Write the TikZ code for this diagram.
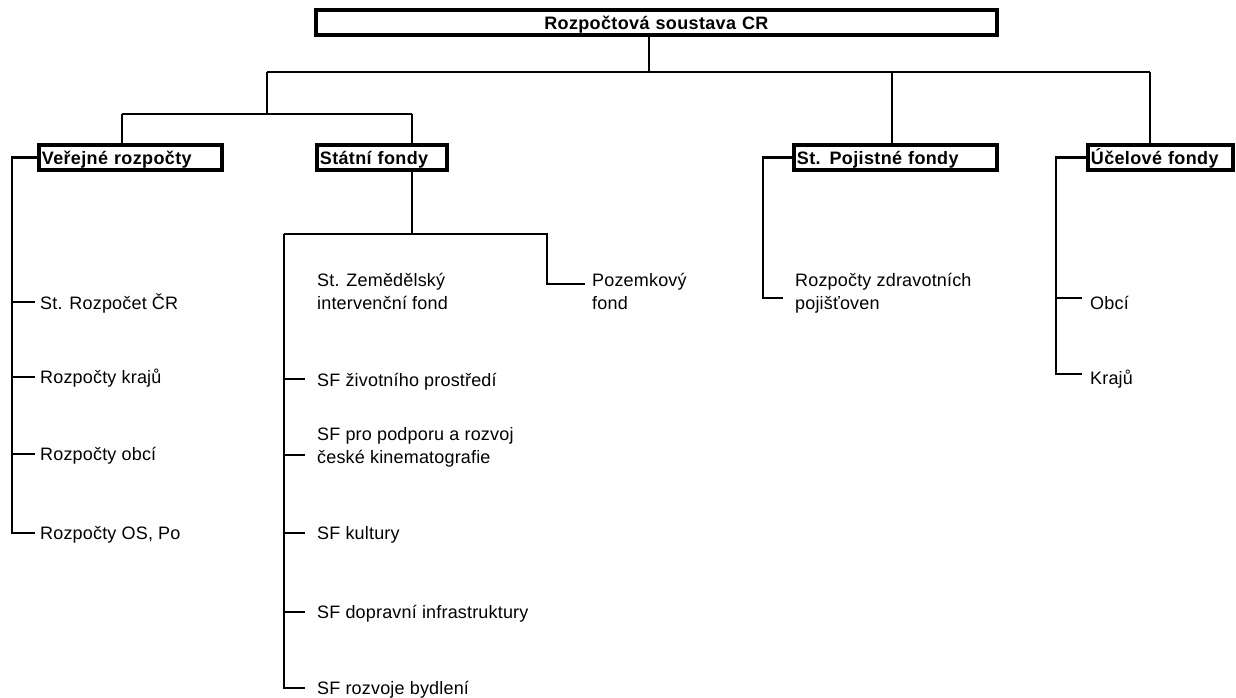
\documentclass[tikz,border=0pt]{standalone}
\usepackage{fontspec}
\setmainfont{Liberation Sans}[LetterSpace=1]
\newfontfamily\boxfont{Liberation Sans Bold}[LetterSpace=2]
\begin{document}
\begin{tikzpicture}[x=1pt,y=-1pt,
  conn/.style={line width=2.5pt, line join=miter},
  box/.style={draw, line width=3.8pt, minimum height=25pt, inner xsep=3pt, inner ysep=0pt,
    text width=#1, align=left, anchor=west, font=\boxfont\fontsize{18}{21}\selectfont,
    text height=13pt, text depth=0pt},
  leaf/.style={anchor=base west, inner sep=0pt, align=left, font=\fontsize{18}{23.5}\selectfont}]
\fill[white] (0,0) rectangle (1236,697);
\useasboundingbox (0,0) rectangle (1236,697);

% boxes
\node[box=675pt, align=center] (top) at (314,22.5) {Rozpočtová soustava CR};
\node[box=177pt] (ver) at (37,157.5) {Veřejné rozpočty};
\node[box=124pt] (sta) at (315,157.5) {Státní fondy};
\node[box=197pt] (poj) at (792,157.5) {St. Pojistné fondy};
\node[box=139pt] (uce) at (1086,157.5) {Účelové fondy};

% leaves (base = baseline of the last line)
\node[leaf] (n1) at (40,309.5) {St. Rozpočet ČR};
\node[leaf] (n2) at (40,383.5) {Rozpočty krajů};
\node[leaf] (n3) at (40,460.5) {Rozpočty obcí};
\node[leaf] (n4) at (40,539.5) {Rozpočty OS, Po};

\node[leaf] (s1) at (317,309.5) {St. Zemědělský\\intervenční fond};
\node[leaf] (s2) at (317,386.5) {SF životního prostředí};
\node[leaf] (s3) at (317,463.5) {SF pro podporu a rozvoj\\české kinematografie};
\node[leaf] (s4) at (317,539.5) {SF kultury};
\node[leaf] (s5) at (317,618.5) {SF dopravní infrastruktury};
\node[leaf] (s6) at (317,694.5) {SF rozvoje bydlení};

\node[leaf] (p1) at (592,309.5) {Pozemkový\\fond};
\node[leaf] (z1) at (795,309.5) {Rozpočty zdravotních\\pojišťoven};
\node[leaf] (u1) at (1090,309.5) {Obcí};
\node[leaf] (u2) at (1090,384.5) {Krajů};

% junction coordinates
\coordinate (j0) at (649,72);
\coordinate (jL) at (267,72);
\coordinate (jP) at (892,72);
\coordinate (jR) at (1150,72);
\coordinate (k0) at (267,114);
\coordinate (kL) at (122,114);
\coordinate (kR) at (412,114);
\coordinate (vx) at (12,0);
\coordinate (sx) at (284,234);
\coordinate (sy) at (547,234);
\coordinate (px) at (763,0);
\coordinate (ux) at (1056,0);

% tick end points
\coordinate (t1) at ([shift={(-5,-7.5)}]n1.base west);
\coordinate (t2) at ([shift={(-5,-6.5)}]n2.base west);
\coordinate (t3) at ([shift={(-5,-6.5)}]n3.base west);
\coordinate (t4) at ([shift={(-5,-6.5)}]n4.base west);
\coordinate (ts2) at ([shift={(-12,-7.5)}]s2.base west);
\coordinate (ts3) at ([shift={(-12,-8.5)}]s3.base west);
\coordinate (ts4) at ([shift={(-12,-6.5)}]s4.base west);
\coordinate (ts5) at ([shift={(-12,-6.5)}]s5.base west);
\coordinate (ts6) at ([shift={(-12,-6.5)}]s6.base west);
\coordinate (tp) at ([shift={(-7,-25.5)}]p1.base west);
\coordinate (tz) at ([shift={(-12,-11.5)}]z1.base west);
\coordinate (tu1) at ([shift={(-8,-11.5)}]u1.base west);
\coordinate (tu2) at ([shift={(-8,-10.5)}]u2.base west);

% top level connectors
\draw[conn] (top.south -| j0) -- (j0);
\draw[conn] (jL) -- (jR);
\draw[conn] (jL) -- (k0);
\draw[conn] (kL) -- (kR);
\draw[conn] (kL) -- (ver.north -| kL);
\draw[conn] (kR) -- (sta.north -| kR);
\draw[conn] (jP) -- (poj.north -| jP);
\draw[conn] (jR) -- (uce.north -| jR);

% Verejne rozpocty
\draw[conn] (ver.west) -- (ver.west -| vx) -- (vx |- t4) -- (t4);
\draw[conn] (vx |- t1) -- (t1);
\draw[conn] (vx |- t2) -- (t2);
\draw[conn] (vx |- t3) -- (t3);

% Statni fondy
\draw[conn] (sta.south -| kR) -- (kR |- sx);
\draw[conn] (sx) -- (sy) -- (sy |- tp) -- (tp);
\draw[conn] (sx) -- (sx |- ts6) -- (ts6);
\draw[conn] (sx |- ts2) -- (ts2);
\draw[conn] (sx |- ts3) -- (ts3);
\draw[conn] (sx |- ts4) -- (ts4);
\draw[conn] (sx |- ts5) -- (ts5);

% St. Pojistne fondy
\draw[conn] (poj.west) -- (poj.west -| px) -- (px |- tz) -- (tz);

% Ucelove fondy
\draw[conn] (uce.west) -- (uce.west -| ux) -- (ux |- tu2) -- (tu2);
\draw[conn] (ux |- tu1) -- (tu1);
\end{tikzpicture}
\end{document}
